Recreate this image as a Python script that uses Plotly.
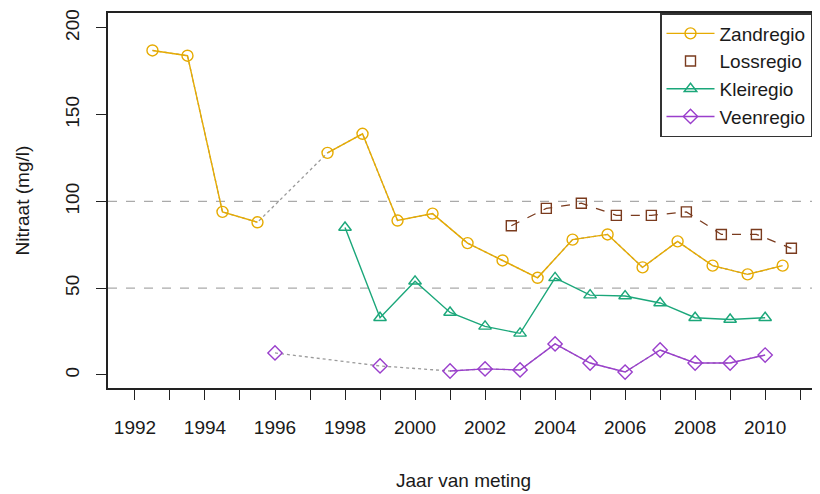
import plotly.graph_objects as go

# ---- data ----
jaar_zand = [1992.5, 1993.5, 1994.5, 1995.5, 1996.5, 1997.5, 1998.5, 1999.5, 2000.5, 2001.5,
             2002.5, 2003.5, 2004.5, 2005.5, 2006.5, 2007.5, 2008.5, 2009.5, 2010.5]
zandregio = [187, 184, 94, 88, None, 128, 139, 89, 93, 76,
             66, 56, 78, 81, 62, 77, 63, 58, 63]

jaar_loss = [2002.75, 2003.75, 2004.75, 2005.75, 2006.75, 2007.75, 2008.75, 2009.75, 2010.75]
lossregio = [86, 96, 99, 92, 92, 94, 81, 81, 73]

jaar_klei = [1998, 1999, 2000, 2001, 2002, 2003, 2004, 2005, 2006, 2007, 2008, 2009, 2010]
kleiregio = [85, 33, 54, 36, 28, 24, 56, 46, 45.5, 41.5, 33, 32, 33]

jaar_veen = [1996, 1997, 1998, 1999, 2000, 2001, 2002, 2003, 2004, 2005, 2006, 2007, 2008, 2009, 2010]
veenregio = [12.7, None, None, 5.2, None, 2.3, 3.5, 2.9, 17.9, 6.9, 1.7, 14.4, 6.9, 6.9, 11.5]

x_ticks = list(range(1992, 2012))
x_labels = [str(j) if j % 2 == 0 else "" for j in x_ticks]
y_ticks = [0, 50, 100, 150, 200]
ref_lines = [50, 100]

# ---- styling ----
FONT = "Liberation Sans, Arial, Helvetica, sans-serif"
TXT = "#1a1a1a"
series = [
    dict(name="Zandregio", x=jaar_zand, y=zandregio, color="#E6AB02", symbol="circle-open", line=True),
    dict(name="Lossregio", x=jaar_loss, y=lossregio, color="#7A3B1E", symbol="square-open", line=False),
    dict(name="Kleiregio", x=jaar_klei, y=kleiregio, color="#1BA77A", symbol="triangle-up-open", line=True),
    dict(name="Veenregio", x=jaar_veen, y=veenregio, color="#9A3FCC", symbol="diamond-open", line=True),
]

fig = go.Figure()
for s in series:
    if any(v is None for v in s["y"]):
        fig.add_trace(go.Scatter(
            x=s["x"], y=s["y"], mode="lines", connectgaps=True,
            line=dict(color="#9a9a9a", width=1.3, dash="dot"),
            showlegend=False, hoverinfo="skip"))
    if s["line"]:
        fig.add_trace(go.Scatter(
            x=s["x"], y=s["y"], name=s["name"], mode="lines+markers", connectgaps=False,
            line=dict(color=s["color"], width=1.4),
            marker=dict(symbol=s["symbol"], size=11, color=s["color"], line=dict(width=1.4, color=s["color"]))))
    else:
        fig.add_trace(go.Scatter(
            x=s["x"], y=s["y"], name=s["name"], mode="lines+markers", showlegend=False,
            line=dict(color=s["color"], width=1.3, dash="dash"),
            marker=dict(symbol=s["symbol"], size=10, color=s["color"], line=dict(width=1.4, color=s["color"]))))
        fig.add_trace(go.Scatter(
            x=[None], y=[None], name=s["name"], mode="markers",
            marker=dict(symbol=s["symbol"], size=10, color=s["color"], line=dict(width=1.4, color=s["color"]))))

for h in ref_lines:
    fig.add_shape(type="line", xref="paper", x0=0, x1=1, yref="y", y0=h, y1=h,
                  line=dict(color="#aaaaaa", width=1.3, dash="dash"), layer="below")

# the page body adds an 8px offset, so the figure is drawn 8px smaller
fig.update_layout(
    width=812, height=486,
    margin=dict(l=100, r=2, t=5, b=106),
    paper_bgcolor="white", plot_bgcolor="white",
    font=dict(family=FONT, size=19, color=TXT),
    showlegend=True,
    legend=dict(x=(660 - 108) / 710, y=1, xanchor="left", yanchor="top", bgcolor="white",
                bordercolor="#333333", borderwidth=1.5, font=dict(size=19, color=TXT),
                itemwidth=48, tracegroupgap=0),
    xaxis=dict(range=[1991.23, 2011.51], tickmode="array", tickvals=x_ticks, ticktext=x_labels,
               ticks="outside", ticklen=10, tickwidth=1.3, tickcolor="#222",
               showline=True, mirror=True, linecolor="#222", linewidth=1.5,
               showgrid=False, zeroline=False, ticklabelstandoff=11, automargin=False),
    yaxis=dict(range=[-7.5, 208.6], tickmode="array", tickvals=y_ticks,
               ticks="outside", ticklen=10, tickwidth=1.3, tickcolor="#222", tickangle=-90,
               showline=True, mirror=True, linecolor="#222", linewidth=1.5,
               showgrid=False, zeroline=False, ticklabelstandoff=10, automargin=False,
               ticklabeloverflow="allow"),
    annotations=[
        dict(text="Jaar van meting", xref="paper", yref="paper", x=0.5, y=-(480 - 388) / 375,
             xanchor="center", yanchor="middle", showarrow=False, font=dict(size=19, color=TXT)),
        dict(text="Nitraat (mg/l)", xref="paper", yref="paper", x=-(108 - 22) / 710, y=0.5,
             xanchor="center", yanchor="middle", textangle=-90, showarrow=False,
             font=dict(size=19, color=TXT)),
    ],
)

fig.write_html("out.html")
